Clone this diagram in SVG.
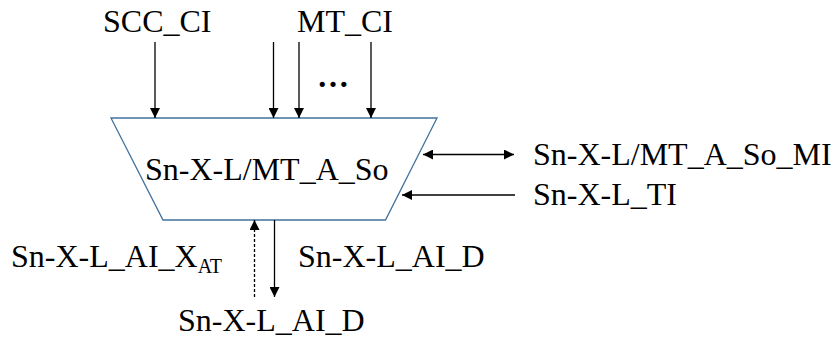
<svg xmlns="http://www.w3.org/2000/svg" width="837" height="341" viewBox="0 0 837 341">
<style>
text{font-family:"Liberation Serif","Times New Roman",serif;font-size:32px;fill:#000}
.c{stroke:#000;stroke-width:1.3;fill:none}
.d{stroke-dasharray:3,2}
</style>
<defs>
<marker id="ah" viewBox="0 0 10 10" refX="10" refY="5" markerWidth="10" markerHeight="10" markerUnits="userSpaceOnUse" orient="auto-start-reverse">
<path d="M0,0 L10,5 L0,10 Z" fill="#000"/>
</marker>
</defs>
<rect width="837" height="341" fill="#fff"/>
<g id="node-main">
<polygon points="111,118 437,118 385.5,220 163,220" fill="#fff" stroke="#41719C" stroke-width="1.3"/>
<text x="145" y="180">Sn-X-L/MT_A_So</text>
</g>
<g id="label-scc"><text x="103" y="32">SCC_CI</text></g>
<g id="label-mt"><text x="297" y="32">MT_CI</text></g>
<g id="label-dots"><text x="317" y="87" font-weight="bold">…</text></g>
<g id="label-mi"><text x="533" y="165">Sn-X-L/MT_A_So_MI</text></g>
<g id="label-ti"><text x="533" y="205">Sn-X-L_TI</text></g>
<g id="label-xat"><text x="11" y="267">Sn-X-L_AI_X<tspan font-size="20" dy="6">AT</tspan></text></g>
<g id="label-aid-right"><text x="298" y="267">Sn-X-L_AI_D</text></g>
<g id="label-aid-bottom"><text x="178" y="331">Sn-X-L_AI_D</text></g>
<g id="connectors">
<line class="c" x1="155" y1="42" x2="155" y2="118" marker-end="url(#ah)"/>
<line class="c" x1="273.5" y1="42" x2="273.5" y2="118" marker-end="url(#ah)"/>
<line class="c" x1="299" y1="42" x2="299" y2="118" marker-end="url(#ah)"/>
<line class="c" x1="371" y1="42" x2="371" y2="118" marker-end="url(#ah)"/>
<line class="c" x1="423" y1="154.5" x2="514" y2="154.5" marker-start="url(#ah)" marker-end="url(#ah)"/>
<line class="c" x1="515" y1="195" x2="402" y2="195" marker-end="url(#ah)"/>
<line class="c d" x1="254.5" y1="297" x2="254.5" y2="220" marker-end="url(#ah)"/>
<line class="c" x1="274.5" y1="220" x2="274.5" y2="297" marker-end="url(#ah)"/>
</g>
</svg>
